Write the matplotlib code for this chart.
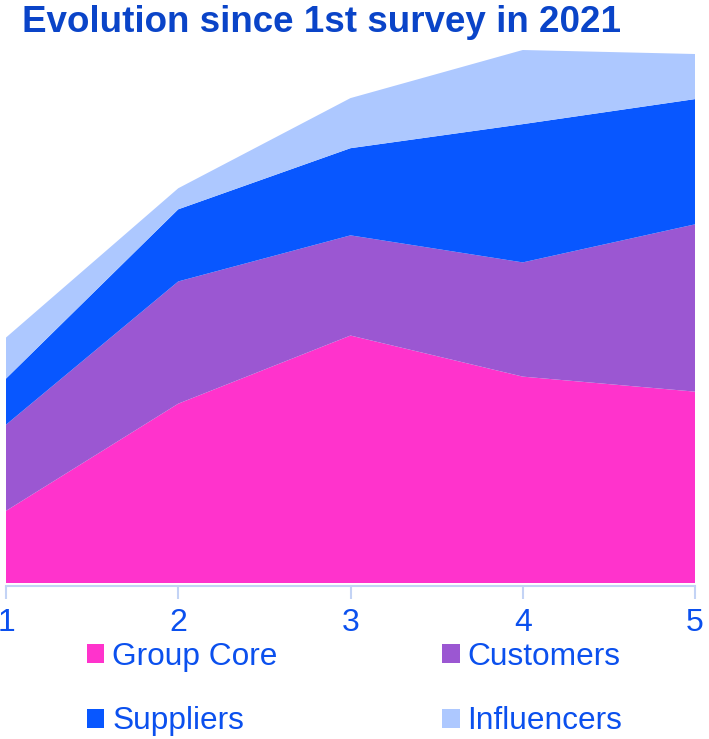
import matplotlib
matplotlib.use("Agg")

import matplotlib.pyplot as plt

# Survey rounds and stakeholder scores (stacked)
rounds = [1, 2, 3, 4, 5]
group_core = [72, 179, 247, 206, 191]
customers = [86, 122, 100, 114, 167]
suppliers = [46, 72, 87, 138, 125]
influencers = [41, 21, 50, 74, 45]

labels = ["Group Core", "Customers", "Suppliers", "Influencers"]
colors = ["#FF33CC", "#9B57D2", "#0857FF", "#ADC8FF"]

TITLE_COLOR = "#0A44C8"
TEXT_COLOR = "#0B50EE"
AXIS_COLOR = "#C3D3F5"

plt.rcParams["font.family"] = ["Liberation Sans", "DejaVu Sans"]

fig = plt.figure(figsize=(7.09, 7.39), dpi=100, facecolor="white")
ax = fig.add_axes([6 / 709, 1 - 583 / 739, 689 / 709, 533 / 739])

series = [group_core, customers, suppliers, influencers]
polys = ax.stackplot(rounds, *series, colors=colors, labels=labels, linewidth=0)

totals = [sum(v) for v in zip(*series)]
ax.set_xlim(1, 5)
ax.set_ylim(0, max(totals))
ax.set_xticks(rounds)
ax.set_yticks([])

for side in ["top", "right", "left"]:
    ax.spines[side].set_visible(False)
ax.spines["bottom"].set_color(AXIS_COLOR)
ax.spines["bottom"].set_linewidth(1.5)
ax.spines["bottom"].set_position(("outward", 2))
ax.tick_params(axis="x", colors=AXIS_COLOR, length=9, width=1.5,
               labelcolor=TEXT_COLOR, labelsize=23, pad=7)

fig.text(22 / 709, 1 - 22 / 739, "Evolution since 1st survey in 2021",
         color=TITLE_COLOR, fontsize=26.5, fontweight="bold",
         ha="left", va="center")

# legend fills column-wise, so order handles to read row by row
order = [0, 2, 1, 3]
leg = fig.legend([polys[i] for i in order], [labels[i] for i in order],
                 loc="center", bbox_to_anchor=(0.5, 1 - 689 / 739), ncol=2,
                 frameon=False, fontsize=22.8, labelcolor=TEXT_COLOR,
                 handlelength=0.55, handleheight=0.55, handletextpad=0.25,
                 columnspacing=5.2, labelspacing=1.1)

fig.savefig("out.png", dpi=100, facecolor="white")
